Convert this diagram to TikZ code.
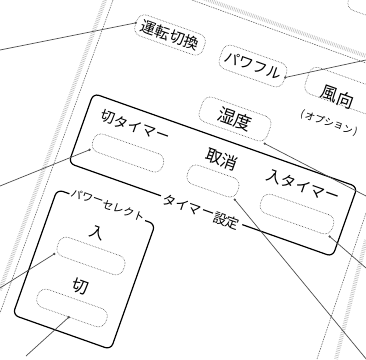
\documentclass[tikz,border=0pt]{standalone}
\usepackage{fontspec}
\usetikzlibrary{calc}
\newfontfamily\jp{Noto Sans CJK JP}
\newcommand{\rlab}[4]{%
  \foreach \o/\c [count=\i] in {#4} {%
    \node[txt, font=\jp\fontsize{#3}{#3}\selectfont] (#1-\i) at ($(#2)+({\o*#3*0.9426},{\o*#3*0.3338})$) {\c};}}
\begin{document}
\begin{tikzpicture}[x=1pt,y=-1pt,
  btn/.style={draw=black!70, densely dotted, line width=0.6pt, rounded corners=8pt, rotate=-19.5, inner sep=0pt},
  bg/.style={fill=white, rotate=-19.5, inner sep=0pt},
  txt/.style={inner sep=0pt, rotate=-19.5},
  panel/.style={draw=black, line width=1.2pt, rounded corners=6pt, rotate=-19.5, inner sep=0pt},
  leader/.style={draw=black!70, line width=0.7pt},
  edge/.style={draw=black!60, dash pattern=on 1.5pt off 1pt, line width=0.6pt},
  stip/.style={draw=black!25, dash pattern=on 0.6pt off 1.2pt, line width=4pt},
  endmark/.style={fill=black!70, circle, inner sep=0pt, minimum size=2.6pt}]
\useasboundingbox (0,0) rectangle (366,359);
\clip (0,0) rectangle (366,359);
% remote outline
\coordinate (l1) at (113,0); \coordinate (l2) at (0,313);
\coordinate (t1) at (192,0); \coordinate (t2) at (366,63);
\coordinate (r1) at (366,213); \coordinate (r2) at (317,359);
\draw[stip] (105,0) -- (0,290);
\draw[stip] (200,-3) -- (366,56);
\draw[stip] (366,240) -- (336,359);
\draw[edge] (l1) -- (l2);
\draw[edge] (t1) -- (t2);
\draw[edge] (r1) -- (r2);
% panels
\node[panel, minimum width=280, minimum height=74] (timer) at (213,175) {};
\node[panel, minimum width=104, minimum height=133] (power) at (84,269.5) {};
\node[bg, minimum width=86, minimum height=14] (tsetbg) at (201,212) {};
\node[bg, minimum width=80, minimum height=12] (pselbg) at (108,205) {};
% buttons
\node[btn, minimum width=72, minimum height=22] (unten) at (170,35) {};
\node[btn, minimum width=68, minimum height=25] (pw) at (253,66) {};
\node[btn, minimum width=76, minimum height=28] (fuko) at (343,91) {};
\node[btn, minimum width=80, minimum height=28] (topr) at (388,8) {};
\node[btn, minimum width=72, minimum height=26] (hum) at (235,119) {};
\node[btn, minimum width=74, minimum height=19] (kt) at (128,153) {};
\node[btn, minimum width=53, minimum height=20] (cb) at (213,181) {};
\node[btn, minimum width=76, minimum height=20] (nb) at (297,214) {};
\node[btn, minimum width=70, minimum height=20] (ib) at (91,256) {};
\node[btn, minimum width=73, minimum height=19] (kb) at (72,308) {};
% texts, set character by character along the tilted baseline
\rlab{tset}{201,212}{13.4}{-2.5/タ,-1.5/イ,-0.5/マ,0.5/ー,1.5/設,2.5/定}
\rlab{psel}{108,205}{11}{-3/パ,-2/ワ,-1/ー,0/セ,1/レ,2/ク,3/ト}
\rlab{untent}{170,35}{15}{-1.5/運,-0.5/転,0.5/切,1.5/換}
\rlab{pwt}{253,66}{14.7}{-1.5/パ,-0.5/ワ,0.5/フ,1.5/ル}
\rlab{fukot}{338,97}{17}{-0.5/風,0.5/向}
\rlab{opt}{329,123}{10}{-2.8/(,-2/オ,-1/プ,0/シ,1/ョ,2/ン,2.8/)}
\rlab{humt}{235,119}{17.5}{-0.5/湿,0.5/度}
\rlab{ktt}{135,127}{14.3}{-2/切,-1/タ,0/イ,1/マ,2/ー}
\rlab{cbt}{222,160}{16.5}{-0.5/取,0.5/消}
\rlab{nbt}{303,187}{15}{-2/入,-1/タ,0/イ,1/マ,2/ー}
\rlab{ibt}{97,233}{15}{0/入}
\rlab{kbt}{80,287}{16.5}{0/切}
% leaders
\coordinate (e1) at (0,50);
\coordinate (e2) at (366,60);
\coordinate (e3) at (366,196);
\coordinate (e4) at (0,186);
\coordinate (e5) at (0,288);
\coordinate (e6) at (26,356);
\coordinate (e7) at (367,360);
\coordinate (e8) at (366,268);
\draw[leader] (e1) -- (unten.west) node[endmark] {};
\draw[leader] (e2) -- (pw.east) node[endmark] {};
\draw[leader] (e3) -- (hum.south east) node[endmark] {};
\draw[leader] (e4) -- (kt.south west) node[endmark] {};
\draw[leader] (e5) -- (ib.south west) node[endmark] {};
\draw[leader] (e6) -- (kb.south) node[endmark] {};
\draw[leader] (e7) -- (cb.south east) node[endmark] {};
\draw[leader] (e8) -- (nb.south east) node[endmark] {};
\end{tikzpicture}
\end{document}
